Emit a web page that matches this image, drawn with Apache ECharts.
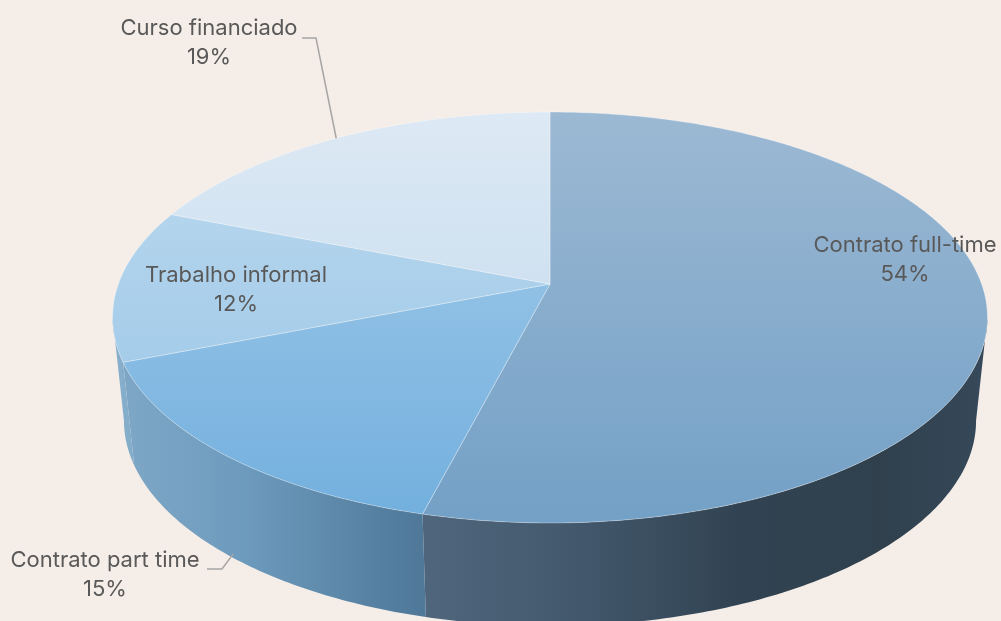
<!DOCTYPE html>
<html>
<head>
<meta charset="utf-8">
<script src="https://cdn.jsdelivr.net/npm/echarts@6/dist/echarts.min.js"></script>
<style>
  html, body { margin: 0; padding: 0; background: #f5ede7; }
  #chart { width: 1001px; height: 621px; }
</style>
</head>
<body>
<div id="chart"></div>
<script>
// dados
const categories = ['Contrato full-time', 'Contrato part time', 'Trabalho informal', 'Curso financiado'];
const shares = [54, 15, 12, 19];
const percentLabels = ['54%', '15%', '12%', '19%'];

// geometria da pizza 3D (perspectiva simples)
const cx = 550, cy = 284;      // vertice da fatia
const RX = 431.6, RY = 200;    // raios do topo
const K = 0.163;               // intensidade da perspectiva
const DEPTH = 103;             // espessura
const BOTTOM_SCALE = 0.974;    // base um pouco mais estreita
const PHI_S = Math.acos(-K);   // silhueta lateral

// cores: topo (gradiente vertical) e lateral (gradiente horizontal)
const topColors = [
  ['#9cb9d3', '#73a0c6'],
  ['#a6cdea', '#72afde'],
  ['#bedaef', '#94c3e6'],
  ['#dde9f4', '#bcd6ec']
];
const sideStops = [
  [[0.35, '#4f667c'], [0.5, '#455b70'], [0.72, '#314352'], [0.88, '#30404d'], [1, '#36495a']],
  [[0, '#80a8c7'], [0.15, '#6d9bbd'], [0.35, '#4f7899']],
  [[0, '#88b0cd'], [0.05, '#7ea8c6']],
  [[0, '#88b0cd'], [1, '#88b0cd']]
];
// posicao dos rotulos e cotovelo das linhas guia
const labelLayout = [
  { x: 905, y: 260 },
  { x: 105, y: 575, elbow: [[207, 569], [222, 569]], anchor: 'bottom' },
  { x: 236, y: 290 },
  { x: 209, y: 43, elbow: [[302, 38], [316, 38]], anchor: 'top' }
];

const total = shares.reduce((a, b) => a + b, 0);
const startAngles = [];
shares.reduce((acc, v) => { startAngles.push(acc); return acc + v / total * Math.PI * 2; }, 0);

function proj(phi, r, bottom) {
  const u = r * Math.sin(phi), v = -r * Math.cos(phi);
  const w = 1 / (1 - K * v);
  return [
    cx + (bottom ? RX * BOTTOM_SCALE : RX) * u * w,
    cy + (bottom ? DEPTH : 0) + RY * v * w
  ];
}

function arc(a0, a1, bottom) {
  const pts = [];
  const n = Math.max(2, Math.ceil((a1 - a0) / (Math.PI / 240)));
  for (let j = 0; j <= n; j++) pts.push(proj(a0 + (a1 - a0) * j / n, 1, bottom));
  return pts;
}

function renderItem(params, api) {
  const i = params.dataIndex;
  const a0 = startAngles[i];
  const a1 = a0 + api.value(0) / total * Math.PI * 2;
  const children = [];

  // face superior
  children.push({
    type: 'polygon',
    z2: 20,
    shape: { points: [proj(0, 0, false)].concat(arc(a0, a1, false)) },
    style: {
      fill: {
        type: 'linear', x: 0, y: cy - RY / (1 + K), x2: 0, y2: cy + RY / (1 - K), global: true,
        colorStops: [{ offset: 0, color: topColors[i][0] }, { offset: 1, color: topColors[i][1] }]
      },
      stroke: 'rgba(255,255,255,0.3)',
      lineWidth: 1
    }
  });

  // face lateral visivel
  const s0 = Math.max(a0, PHI_S), s1 = Math.min(a1, Math.PI * 2 - PHI_S);
  if (s1 > s0) {
    const pts = arc(s0, s1, false).concat(arc(s0, s1, true).reverse());
    const left = proj(Math.PI * 2 - PHI_S, 1, false)[0];
    const right = proj(PHI_S, 1, false)[0];
    children.push({
      type: 'polygon',
      z2: 5,
      shape: { points: pts },
      style: {
        fill: {
          type: 'linear', x: left, y: 0, x2: right, y2: 0, global: true,
          colorStops: sideStops[i].map(s => ({ offset: s[0], color: s[1] }))
        },
        stroke: null
      }
    });
  }

  // rotulo
  const lay = labelLayout[i];
  children.push({
    type: 'text',
    z2: 40,
    style: {
      text: categories[i] + '\n' + percentLabels[i],
      x: lay.x, y: lay.y,
      align: 'center', verticalAlign: 'middle',
      fontSize: 22, lineHeight: 29,
      fontFamily: 'Inter, "Noto Sans", sans-serif',
      fill: '#595959'
    }
  });
  if (lay.elbow) {
    const mid = (a0 + a1) / 2;
    let end = proj(mid, 1, lay.anchor === 'bottom');
    if (lay.anchor === 'bottom') end = [end[0], end[1] - 4];
    children.push({
      type: 'polyline',
      z2: 30,
      shape: { points: lay.elbow.concat([end]) },
      style: { stroke: '#a6a6a6', lineWidth: 1.5, fill: null }
    });
  }
  return { type: 'group', children };
}

const chart = echarts.init(document.getElementById('chart'));
chart.setOption({
  backgroundColor: '#f5ede7',
  animation: false,
  series: [{
    type: 'custom',
    coordinateSystem: 'none',
    renderItem: renderItem,
    data: shares.map((v, i) => ({ name: categories[i], value: v }))
  }]
});
</script>
</body>
</html>
